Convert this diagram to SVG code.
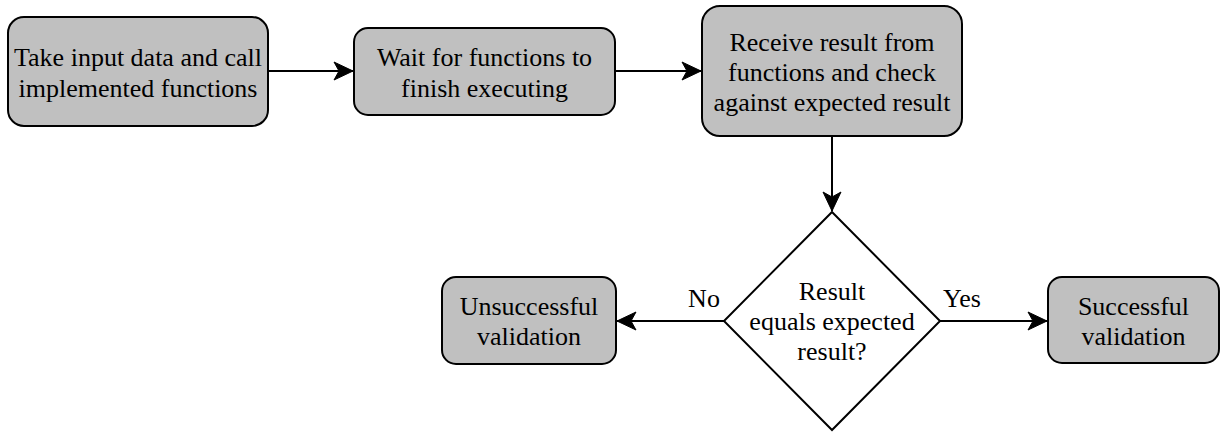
<svg xmlns="http://www.w3.org/2000/svg" width="1221" height="432" viewBox="0 0 1221 432">
  <style>
    .box { fill: #c0c0c0; stroke: #000; stroke-width: 2; }
    .dec { fill: #fff; stroke: #000; stroke-width: 2; }
    .lbl { font-family: 'Liberation Serif', 'Times New Roman', serif; font-size: 26px; fill: #000; text-anchor: middle; }
    .edge { fill: none; stroke: #000; stroke-width: 2; }
  </style>
  <defs>
    <!-- classic notched arrowhead, tip at the line end -->
    <marker id="arrow" markerUnits="userSpaceOnUse" markerWidth="22" markerHeight="20" viewBox="0 0 22 20" refX="20" refY="10" orient="auto">
      <path d="M1,1 L20,10 L1,19 L6,10 Z" fill="#000" stroke="#000" stroke-width="1"/>
    </marker>
  </defs>
  <rect width="1221" height="432" fill="#fff"/>

  <g id="connectors">
    <line class="edge" x1="268" y1="71" x2="353" y2="71" marker-end="url(#arrow)"/>
    <line class="edge" x1="615" y1="71" x2="701" y2="71" marker-end="url(#arrow)"/>
    <line class="edge" x1="832" y1="136" x2="832" y2="211" marker-end="url(#arrow)"/>
    <line class="edge" x1="724" y1="321" x2="617" y2="321" marker-end="url(#arrow)"/>
    <line class="edge" x1="940" y1="321" x2="1047" y2="321" marker-end="url(#arrow)"/>
    <text class="lbl" x="704" y="307">No</text>
    <text class="lbl" x="962" y="307">Yes</text>
  </g>

  <g id="take-input">
    <rect class="box" x="8" y="17" width="260" height="109" rx="16"/>
    <text class="lbl" x="138" y="66">Take input data and call</text>
    <text class="lbl" x="138" y="97">implemented functions</text>
  </g>

  <g id="wait">
    <rect class="box" x="354" y="28" width="261" height="87" rx="14"/>
    <text class="lbl" x="484.5" y="66">Wait for functions to</text>
    <text class="lbl" x="484.5" y="97">finish executing</text>
  </g>

  <g id="receive">
    <rect class="box" x="702" y="6" width="260" height="130" rx="18"/>
    <text class="lbl" x="832" y="51">Receive result from</text>
    <text class="lbl" x="832" y="81">functions and check</text>
    <text class="lbl" x="832" y="111">against expected result</text>
  </g>

  <g id="decision">
    <polygon class="dec" points="832,212 940,321 832,430 724,321"/>
    <text class="lbl" x="832" y="300">Result</text>
    <text class="lbl" x="832" y="330">equals expected</text>
    <text class="lbl" x="832" y="360">result?</text>
  </g>

  <g id="unsuccessful">
    <rect class="box" x="442" y="277" width="174" height="87" rx="14"/>
    <text class="lbl" x="529" y="315">Unsuccessful</text>
    <text class="lbl" x="529" y="345">validation</text>
  </g>

  <g id="successful">
    <rect class="box" x="1048" y="277" width="171" height="86" rx="14"/>
    <text class="lbl" x="1133.5" y="315">Successful</text>
    <text class="lbl" x="1133.5" y="345">validation</text>
  </g>
</svg>
